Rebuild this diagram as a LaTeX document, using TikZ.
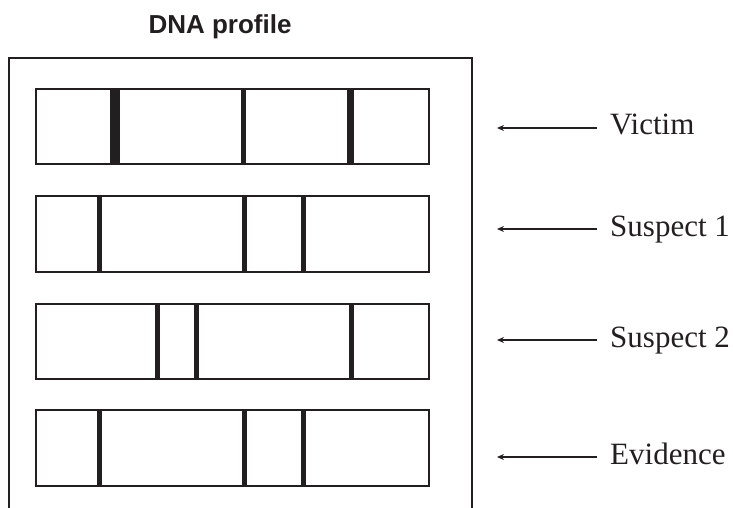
\documentclass[tikz,border=0pt]{standalone}
\usepackage{fontspec}
\setmainfont{Liberation Serif}
\newfontfamily\titlefont{Liberation Sans}
\usetikzlibrary{arrows.meta}
\definecolor{ink}{HTML}{231F20}
\tikzset{
  lane/.style={draw=ink, line width=1.1pt, minimum width=393pt, minimum height=75pt, inner sep=0pt, outer sep=0pt},
  band/.style={fill=ink, draw=none},
  lbl/.style={anchor=base west, inner sep=0pt, font=\fontsize{31}{37}\selectfont, text=ink},
  ptr/.style={draw=ink, line width=1.3pt, -{Stealth[length=7pt,width=6pt]}},
}
\begin{document}
\begin{tikzpicture}[x=1pt,y=-1pt]
\useasboundingbox (0,0) rectangle (733,508);
% title
\node[font=\titlefont\bfseries\fontsize{26}{30}\selectfont, text=ink, anchor=base] (title) at (220,34) {DNA profile};
% frame (open at the bottom)
\draw[ink, line width=1.1pt] (9,508) -- (9,58) -- (472,58) -- (472,508);
% bands
\fill[ink] (110,89) rectangle (120,164);
\fill[ink] (241,89) rectangle (246,164);
\fill[ink] (347,89) rectangle (354,164);
\fill[ink] (97,196) rectangle (102,272);
\fill[ink] (242,196) rectangle (247,272);
\fill[ink] (301,196) rectangle (306,272);
\fill[ink] (155,304) rectangle (160,379);
\fill[ink] (194,304) rectangle (199,379);
\fill[ink] (349,304) rectangle (354,379);
\fill[ink] (97,410) rectangle (102,486);
\fill[ink] (242,410) rectangle (247,486);
\fill[ink] (301,410) rectangle (306,486);
% lanes
\node[lane] (L1) at (232.5,126.5) {};
\node[lane, minimum height=76pt] (L2) at (232.5,234) {};
\node[lane] (L3) at (232.5,341.5) {};
\node[lane, minimum height=76pt] (L4) at (232.5,448) {};
% labels
\node[lbl] (t1) at (610,135) {Victim};
\node[lbl] (t2) at (610,236) {Suspect 1};
\node[lbl] (t3) at (610,347) {Suspect 2};
\node[lbl] (t4) at (610,464) {Evidence};
% arrow ends
\coordinate (a1) at (497,128);
\coordinate (a2) at (497,229);
\coordinate (a3) at (497,340);
\coordinate (a4) at (497,457);
\draw[ptr] ([xshift=-13pt,yshift=7pt]t1.base west) -- (a1);
\draw[ptr] ([xshift=-13pt,yshift=7pt]t2.base west) -- (a2);
\draw[ptr] ([xshift=-13pt,yshift=7pt]t3.base west) -- (a3);
\draw[ptr] ([xshift=-13pt,yshift=7pt]t4.base west) -- (a4);
\end{tikzpicture}
\end{document}
